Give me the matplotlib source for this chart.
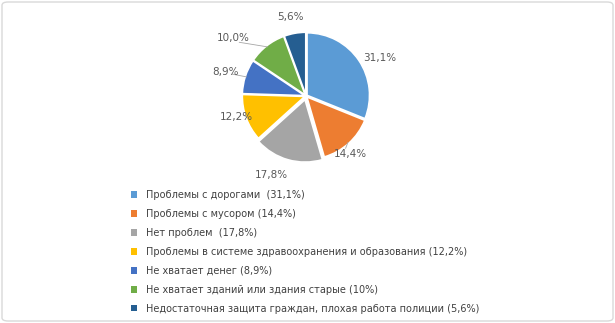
import matplotlib.pyplot as plt
import matplotlib.patches as mpatches
import numpy as np

labels = ['Проблемы с дорогами  (31,1%)',
          'Проблемы с мусором (14,4%)',
          'Нет проблем  (17,8%)',
          'Проблемы в системе здравоохранения и образования (12,2%)',
          'Не хватает денег (8,9%)',
          'Не хватает зданий или здания старые (10%)',
          'Недостаточная защита граждан, плохая работа полиции (5,6%)']
values = [31.1, 14.4, 17.8, 12.2, 8.9, 10.0, 5.6]
pct_labels = ['31,1%', '14,4%', '17,8%', '12,2%', '8,9%', '10,0%', '5,6%']
colors = ['#5B9BD5', '#ED7D31', '#A5A5A5', '#FFC000', '#4472C4', '#70AD47', '#255E91']

W, H = 615, 323
fig = plt.figure(figsize=(W / 100, H / 100), dpi=100)
fig.patch.set_facecolor('white')

# rounded border
fig.patches.append(mpatches.FancyBboxPatch((2 / W, 2 / H), 1 - 4 / W, 1 - 4 / H,
                                           boxstyle='round,pad=0,rounding_size=0.01',
                                           transform=fig.transFigure, fill=False,
                                           edgecolor='#D9D9D9', linewidth=1))

# pie axes: centre (306, 96 from top), 62.5 px per unit
cx, cy, size = 306, 96, 200
ax = fig.add_axes([(cx - size / 2) / W, (H - cy - size / 2) / H, size / W, size / H])
explode = [0.02, 0.02, 0.06, 0.02, 0.02, 0.02, 0.02]
wedges, _ = ax.pie(values, colors=colors, startangle=90, counterclock=False,
                   explode=explode, radius=1,
                   wedgeprops=dict(edgecolor='white', linewidth=1.2))
ax.set_xlim(-1.6, 1.6)
ax.set_ylim(-1.6, 1.6)
ax.set_aspect('equal')
ax.axis('off')

# label distance and small angular shift (deg) per slice
dists = [1.33, 1.17, 1.38, 1.17, 1.35, 1.49, 1.29]
shifts = [-7, -5, -7.5, -3.5, 1.3, 13, 1.3]
leaders = [False, True, False, True, True, True, False]
for w, lab, d, s, lead in zip(wedges, pct_labels, dists, shifts, leaders):
    mid = np.deg2rad((w.theta1 + w.theta2) / 2)
    ang = np.deg2rad((w.theta1 + w.theta2) / 2 + s)
    x, y = d * np.cos(ang), d * np.sin(ang)
    ax.text(x, y, lab, ha='center', va='center', fontsize=7.5, color='#595959')
    if lead:
        ax.plot([1.0 * np.cos(mid), (d - 0.12) * np.cos(ang)],
                [1.0 * np.sin(mid), (d - 0.12) * np.sin(ang)],
                color='#A6A6A6', linewidth=0.6)

handles = [mpatches.Patch(facecolor=c, edgecolor='none') for c in colors]
fig.legend(handles, labels, loc='upper left', bbox_to_anchor=(131 / W, 1 - 190 / H),
           frameon=False, fontsize=7, labelcolor='#404040',
           handlelength=0.65, handleheight=0.65, handletextpad=0.9,
           labelspacing=0.92, borderaxespad=0, borderpad=0)

plt.savefig('out.png', dpi=100)
